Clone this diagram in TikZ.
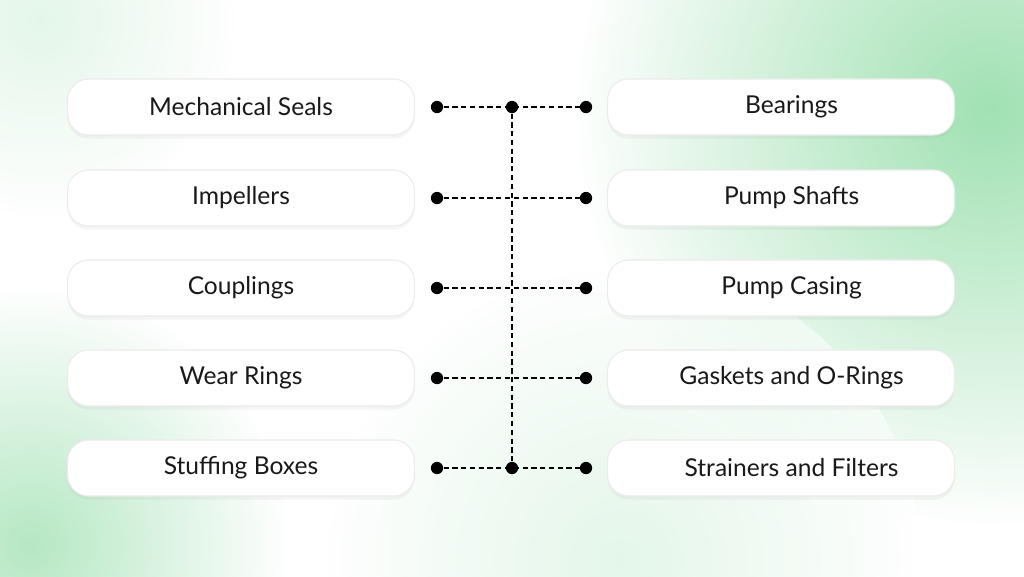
\documentclass[tikz,border=0pt]{standalone}
\usepackage{fontspec}
\setmainfont{Lato}
\usetikzlibrary{shadows}
\definecolor{mint}{RGB}{150,222,170}
\begin{document}
\begin{tikzpicture}[x=0.02cm,y=-0.02cm,
  item/.style={draw=black!8,line width=0.6pt,fill=white,rounded corners=12pt,minimum width=6.94cm,minimum height=1.12cm,font=\fontsize{14}{17}\selectfont,text=black!90,drop shadow={opacity=0.08,shadow xshift=0pt,shadow yshift=-2pt}},
  dot/.style={circle,fill=black,inner sep=0pt,minimum size=7pt},
  link/.style={dashed,line width=0.8pt,dash pattern=on 3pt off 2pt}]
\useasboundingbox (0,0) rectangle (1024,576);
\begin{scope}
\clip (0,0) rectangle (1024,576);
\fill[white] (0,0) rectangle (1024,576);
\shade[inner color=mint,outer color=white,opacity=0.9] (990,110) circle (420);
\shade[inner color=mint,outer color=white,opacity=0.7] (30,545) circle (260);
\shade[inner color=mint!50,outer color=white,opacity=0.5] (620,560) circle (300);
\shade[inner color=mint!50,outer color=white,opacity=0.5] (40,20) circle (200);
\end{scope}
\foreach \i/\l/\r/\y in {a/Mechanical Seals/Bearings/107,b/Impellers/Pump Shafts/198,c/Couplings/Pump Casing/288,d/Wear Rings/Gaskets and O-Rings/378,e/Stuffing Boxes/Strainers and Filters/468}{
  \node[item] (L\i) at (241,\y) {\raisebox{-1.5pt}{\l}};
  \node[item] (R\i) at (781,\y) {\hspace*{12pt}\raisebox{-1.5pt}{\r}};
  \node[dot] (dl\i) at (437,\y) {};
  \node[dot] (dr\i) at (586,\y) {};
  \draw[link] (dl\i) -- (dr\i);
}
\node[dot] (ta) at (512,107) {};
\node[dot] (te) at (512,468) {};
\draw[link] (ta) -- (te);
\end{tikzpicture}
\end{document}
